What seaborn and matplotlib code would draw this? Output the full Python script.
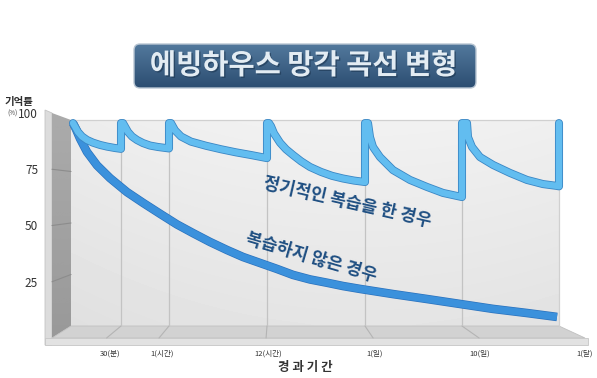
import numpy as np
import matplotlib
matplotlib.use("Agg")
import matplotlib.pyplot as plt
import seaborn as sns
from matplotlib.patches import Polygon, FancyBboxPatch
from matplotlib.colors import LinearSegmentedColormap
import matplotlib.patheffects as pe

# ---------------- data ----------------
title = "에빙하우스 망각 곡선 변형"
y_title = "기억률"
x_title = "경 과 기 간"
y_ticks = [25, 50, 75, 100]
y_ticklabels = ["25", "50", "75", "100"]
time_positions = [50, 98, 196, 294, 391, 488]
time_labels = ["30(분)", "1(시간)", "12(시간)", "1(일)", "10(일)", "1(달)"]

review_x = [2, 7, 11, 16, 22, 29, 36, 44, 50, 50,
            52, 57, 61, 66, 72, 79, 87, 98, 98,
            100, 104, 110, 120, 135, 150, 165, 180, 196, 196,
            198, 200, 203, 209, 215, 222, 230, 239, 250, 261, 272, 283, 294, 294,
            297, 299, 302, 309, 322, 339, 356, 372, 391, 391,
            396, 397, 401, 409, 422, 439, 456, 472, 486, 488, 488]
review_y = [98.5, 94.2, 92.0, 90.3, 89.0, 87.9, 87.1, 86.4, 86.0, 98.5,
            98.5, 94.2, 92.0, 90.3, 88.8, 87.6, 86.9, 86.2, 98.5,
            98.5, 95.0, 92.0, 89.5, 87.5, 85.8, 84.3, 83.0, 81.5, 98.5,
            98.5, 97.0, 93.5, 89.0, 85.8, 83.0, 80.0, 77.2, 74.8, 72.9, 71.6, 70.6, 69.9, 98.5,
            98.5, 91.7, 86.9, 82.0, 75.7, 70.9, 67.5, 64.6, 62.6, 98.5,
            98.5, 91.7, 86.9, 82.0, 78.2, 74.3, 70.9, 68.9, 68.0, 67.8, 98.5]

noreview_x = [2, 5, 9, 16, 26, 39, 56, 72, 89, 106, 122, 139, 156, 172, 189, 206,
              222, 239, 256, 272, 289, 322, 356, 389, 422, 456, 486]
noreview_y = [98.5, 95.5, 91.0, 84.5, 78.0, 71.8, 65.0, 59.8, 54.5, 49.3, 45.1, 40.8,
              36.9, 33.5, 30.6, 27.7, 24.8, 22.6, 21.0, 19.4, 18.0, 15.5, 13.1, 10.7, 8.3, 6.3, 4.4]

label_review = "정기적인 복습을 한 경우"
label_noreview = "복습하지 않은 경우"

# ---------------- style ----------------
sns.set_style("white")
plt.rcParams["font.family"] = ["Noto Sans CJK KR", "DejaVu Sans"]

W, H = 597, 378
fig = plt.figure(figsize=(W / 100, H / 100), dpi=100)
fig.patch.set_facecolor("white")

bg = fig.add_axes([0, 0, 1, 1])
bg.set_autoscale_on(False)
bg.set_xlim(0, W)
bg.set_ylim(H, 0)
bg.axis("off")

gray = plt.get_cmap("gray")


def grad_fill(ax, verts, arr, extent, cmap=gray, z=1):
    poly = Polygon(verts, closed=True, facecolor="none", edgecolor="none", zorder=z)
    ax.add_patch(poly)
    im = ax.imshow(arr, extent=extent, cmap=cmap, vmin=0, vmax=1,
                   aspect="auto", interpolation="bicubic", zorder=z)
    im.set_clip_path(poly)
    return poly


# geometry of the pseudo-3D box (pixels)
BX0, BX1, BY0, BY1 = 71, 559, 120, 326     # back wall
FX0, FX1, FY = 52, 585, 338                 # front edge
FTOP = 113

# back wall
xx, yy = np.meshgrid(np.linspace(0, 1, 120), np.linspace(0, 1, 60))
back = 0.945 - 0.05 * yy - 0.05 * (xx - 0.6) ** 2
grad_fill(bg, [(BX0, BY0), (BX1, BY0), (BX1, BY1), (BX0, BY1)], back,
          [BX0, BX1, BY1, BY0])
bg.plot([BX0, BX1, BX1], [BY0, BY0, BY1], color="#d0d0d0", lw=0.9, zorder=2)

# side wall (light edge + dark face)
bg.add_patch(Polygon([(45, FTOP - 3), (FX0, FTOP), (FX0, FY + 7), (45, FY + 7)],
                     closed=True, facecolor="#dcdcdc", edgecolor="#c4c4c4", lw=0.6, zorder=1))
side = np.linspace(0.67, 0.60, 60)[:, None] * np.ones((60, 10))
grad_fill(bg, [(FX0, FTOP), (BX0, BY0), (BX0, BY1), (FX0, FY)], side,
          [FX0, BX0, FY, FTOP])
for p in y_ticks[:-1]:
    bg.plot([FX0, BX0], [FY - p * (FY - FTOP) / 100, BY1 - p * (BY1 - BY0) / 100],
            color="#8c8c8c", lw=0.8, zorder=2)

# floor + front face
bg.add_patch(Polygon([(BX0, BY1), (BX1, BY1), (FX1, FY), (FX0, FY)], closed=True,
                     facecolor="#d2d2d2", edgecolor="#c0c0c0", lw=0.6, zorder=1))
bg.add_patch(Polygon([(45, FY), (FX1 + 3, FY), (FX1 + 3, FY + 7), (45, FY + 7)], closed=True,
                     facecolor="#e2e2e2", edgecolor="#c6c6c6", lw=0.6, zorder=1))
for gx in time_positions[:-1]:
    bg.plot([BX0 + gx, FX0 + gx * (FX1 - FX0) / 488], [BY1, FY],
            color="#b4b4b4", lw=0.8, zorder=2)

# title box
tb = FancyBboxPatch((134, 44), 342, 44, boxstyle="round,pad=0,rounding_size=6",
                    facecolor="none", edgecolor="#b9c6d3", lw=1.0, zorder=3)
bg.add_patch(tb)
tcmap = LinearSegmentedColormap.from_list("tb", ["#2c4e72", "#52789c"])
tarr = np.linspace(1, 0, 50)[:, None] * np.ones((50, 10))
im = bg.imshow(tarr, extent=[134, 476, 88, 44], cmap=tcmap, vmin=0, vmax=1,
               aspect="auto", interpolation="bicubic", zorder=2)
im.set_clip_path(tb)
bg.text(304, 66, title, ha="center", va="center", fontsize=20.5, fontweight="bold",
        color="#e3ecf3", zorder=4,
        path_effects=[pe.withSimplePatchShadow(offset=(1, -1), shadow_rgbFace="#1b3550", alpha=0.6)])

# axis titles
bg.text(19, 102, y_title, ha="center", va="center", fontsize=7.5, fontweight="bold", color="#2e2e2e")
bg.text(13, 114, "(%)", ha="center", va="center", fontsize=4.5, color="#444444")
bg.text(305, 368, x_title, ha="center", va="center", fontsize=9, fontweight="bold", color="#333333")

# ---------------- front axes (tick labels) ----------------
fa = fig.add_axes([FX0 / W, (H - FY) / H, (FX1 - FX0) / W, (FY - FTOP) / H])
fa.patch.set_alpha(0)
for s in fa.spines.values():
    s.set_visible(False)
fa.set_xlim(-4, 486)
fa.set_ylim(0, 100)
fa.set_xticks(time_positions)
fa.set_xticklabels(time_labels, fontsize=5.5, color="#333333")
fa.set_yticks(y_ticks)
fa.set_yticklabels(y_ticklabels, fontsize=8.5, color="#333333")
fa.tick_params(axis="x", length=0, pad=8)
fa.tick_params(axis="y", length=0, pad=10)
fa.grid(False)

# ---------------- main axes (back wall) ----------------
ax = fig.add_axes([BX0 / W, (H - BY1) / H, (BX1 - BX0) / W, (BY1 - BY0) / H])
ax.patch.set_alpha(0)
for s in ax.spines.values():
    s.set_visible(False)
ax.set_xlim(0, 488)
ax.set_ylim(0, 100)
ax.set_xticks(time_positions[:-1])
ax.set_yticks([])
ax.tick_params(length=0, labelbottom=False, labelleft=False)
ax.grid(axis="x", color="#c3c3c3", lw=0.9)

sns.lineplot(x=noreview_x, y=noreview_y, ax=ax, sort=False, estimator=None,
             color="#3b91dc", lw=5.2, solid_capstyle="butt", solid_joinstyle="round", clip_on=False,
             path_effects=[pe.Stroke(linewidth=6.2, foreground="#2b72bd"), pe.Normal()])
sns.lineplot(x=review_x, y=review_y, ax=ax, sort=False, estimator=None,
             color="#62bdf0", lw=4.6, solid_joinstyle="round", clip_on=False,
             path_effects=[pe.Stroke(linewidth=5.8, foreground="#3a86c4"), pe.Normal()])
ax.set_xlabel("")
ax.set_ylabel("")

ax.text(276, 60, label_review, rotation=-13, rotation_mode="anchor", ha="center", va="center",
        fontsize=12.5, fontweight="bold", color="#1f4f82")
ax.text(240, 33, label_noreview, rotation=-16.5, rotation_mode="anchor", ha="center", va="center",
        fontsize=12.5, fontweight="bold", color="#1f4f82")

fig.savefig("out.png", dpi=100, facecolor="white")
